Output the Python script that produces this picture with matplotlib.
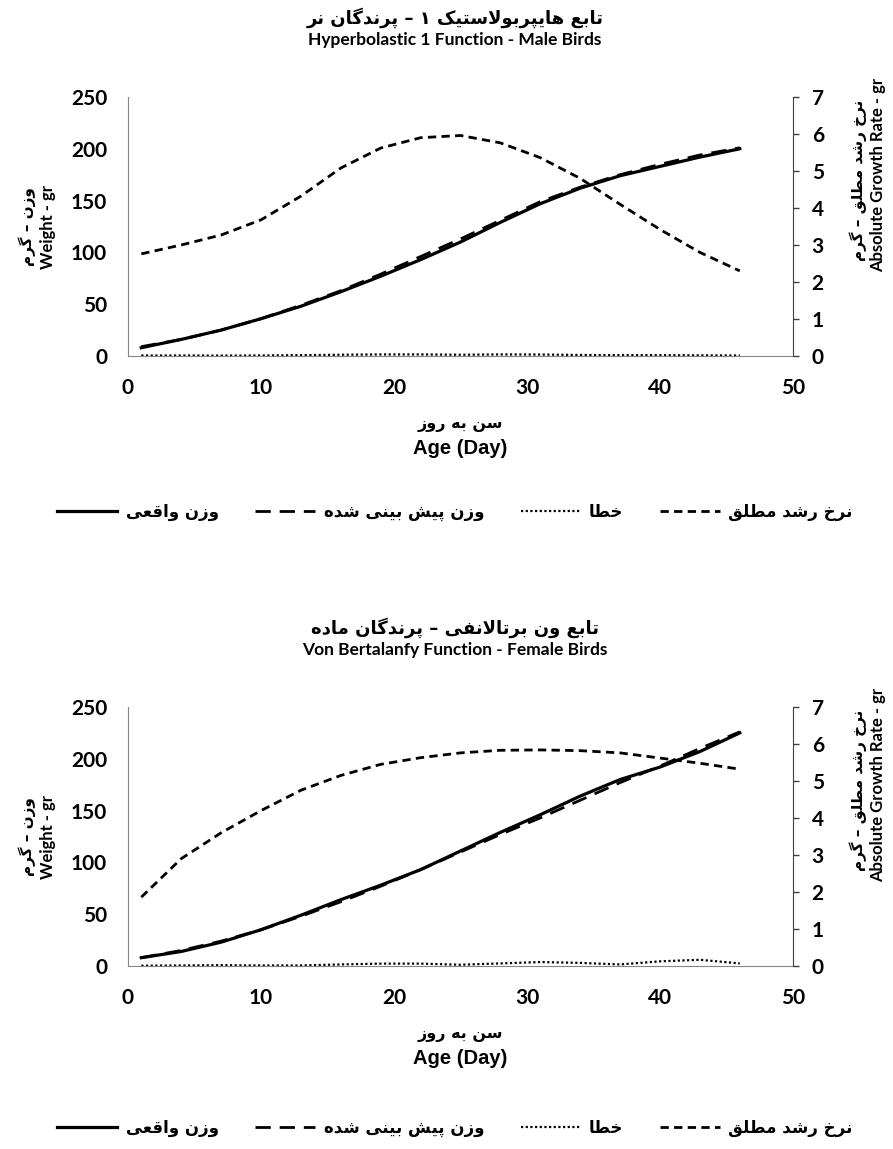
import matplotlib
matplotlib.use("Agg")
import matplotlib.pyplot as plt
from matplotlib.lines import Line2D

W, H = 893, 1149

# روزها (هر سه روز یک نقطه)
days = [1, 4, 7, 10, 13, 16, 19, 22, 25, 28, 31, 34, 37, 40, 43, 46]

# Hyperbolastic 1 - male birds
male_actual = [8, 16, 25, 36, 48, 62, 77, 93, 110, 129, 147, 162, 174, 183, 192, 200]
male_pred = [9, 16, 25, 36, 49, 63, 79, 96, 113, 131, 149, 163, 175, 185, 194, 201]
male_error = [0.5, 0.5, 0.4, 0.5, 0.8, 1.2, 1.5, 1.5, 1.2, 1.5, 1.4, 1.0, 0.8, 0.8, 0.6, 0.5]
male_arg = [2.76, 3.0, 3.27, 3.68, 4.32, 5.08, 5.62, 5.9, 5.96, 5.76, 5.36, 4.8, 4.1, 3.42, 2.8, 2.3]

# Von Bertalanffy - female birds
female_actual = [8, 14, 23, 35, 49, 64, 78, 93, 111, 129, 146, 164, 180, 192, 207, 225]
female_pred = [8, 15, 24, 35, 48, 62, 77, 93, 110, 127, 143, 160, 177, 193, 210, 226]
female_error = [0.3, 0.5, 0.8, 0.5, 0.5, 1.5, 2.3, 2.3, 1.2, 2.5, 3.8, 3.0, 1.5, 4.5, 6.0, 2.5]
female_arg = [1.86, 2.9, 3.6, 4.2, 4.75, 5.15, 5.45, 5.63, 5.76, 5.83, 5.84, 5.82, 5.76, 5.62, 5.48, 5.32]

# شکل‌دهی ساده حروف فارسی (matplotlib حروف را به هم وصل نمی‌کند)
FORMS = {
    '\u0627': ('\ufe8d', '\ufe8e'),                      # ا
    '\u0628': ('\ufe8f', '\ufe90', '\ufe91', '\ufe92'),  # ب
    '\u067e': ('\ufb56', '\ufb57', '\ufb58', '\ufb59'),  # پ
    '\u062a': ('\ufe95', '\ufe96', '\ufe97', '\ufe98'),  # ت
    '\u062e': ('\ufea5', '\ufea6', '\ufea7', '\ufea8'),  # خ
    '\u062f': ('\ufea9', '\ufeaa'),                      # د
    '\u0631': ('\ufead', '\ufeae'),                      # ر
    '\u0632': ('\ufeaf', '\ufeb0'),                      # ز
    '\u0633': ('\ufeb1', '\ufeb2', '\ufeb3', '\ufeb4'),  # س
    '\u0634': ('\ufeb5', '\ufeb6', '\ufeb7', '\ufeb8'),  # ش
    '\u0637': ('\ufec1', '\ufec2', '\ufec3', '\ufec4'),  # ط
    '\u0639': ('\ufec9', '\ufeca', '\ufecb', '\ufecc'),  # ع
    '\u0641': ('\ufed1', '\ufed2', '\ufed3', '\ufed4'),  # ف
    '\u0642': ('\ufed5', '\ufed6', '\ufed7', '\ufed8'),  # ق
    '\u06a9': ('\ufb8e', '\ufb8f', '\ufb90', '\ufb91'),  # ک
    '\u06af': ('\ufb92', '\ufb93', '\ufb94', '\ufb95'),  # گ
    '\u0644': ('\ufedd', '\ufede', '\ufedf', '\ufee0'),  # ل
    '\u0645': ('\ufee1', '\ufee2', '\ufee3', '\ufee4'),  # م
    '\u0646': ('\ufee5', '\ufee6', '\ufee7', '\ufee8'),  # ن
    '\u0647': ('\ufee9', '\ufeea', '\ufeeb', '\ufeec'),  # ه
    '\u0648': ('\ufeed', '\ufeee'),                      # و
    '\u06cc': ('\ufbfc', '\ufbfd', '\ufbfe', '\ufbff'),  # ی
}


def fa(s):
    s = s.replace('\u064a', '\u06cc').replace('\u0649', '\u06cc').replace('\u0643', '\u06a9')
    out = []
    i = 0
    while i < len(s):
        c = s[i]
        if c not in FORMS:
            out.append(c)
            i += 1
            continue
        prev = s[i - 1] if i > 0 else ''
        joins_prev = prev in FORMS and len(FORMS[prev]) == 4
        nxt = s[i + 1] if i + 1 < len(s) else ''
        if c == '\u0644' and nxt == '\u0627':
            out.append('\ufefc' if joins_prev else '\ufefb')
            i += 2
            continue
        f = FORMS[c]
        joins_next = len(f) == 4 and nxt in FORMS
        if joins_prev and joins_next:
            out.append(f[3])
        elif joins_prev:
            out.append(f[1])
        elif joins_next:
            out.append(f[2])
        else:
            out.append(f[0])
        i += 1
    return ''.join(reversed(out))


LAT = ['Lato', 'DejaVu Sans']
FAF = ['DejaVu Sans']

fig = plt.figure(figsize=(W / 100, H / 100), dpi=100)


def ftext(x, y, s, **kw):
    kw.setdefault('ha', 'center')
    kw.setdefault('va', 'center')
    fig.text(x / W, 1 - y / H, s, **kw)


def draw_chart(top, title_fa, title_en, actual, pred, error, arg, leg_y):
    x0, x1 = 128, 793
    bottom = top + 259
    ax = fig.add_axes([x0 / W, 1 - bottom / H, (x1 - x0) / W, (bottom - top) / H])
    ax2 = ax.twinx()

    ax.plot(days, actual, color='black', lw=2.3)
    ax.plot(days, pred, color='black', lw=2.0, dashes=(5.5, 3.2))
    ax.plot(days, error, color='black', lw=1.6, dashes=(1, 1.1))
    ax2.plot(days, arg, color='black', lw=2.0, dashes=(3.0, 1.9))

    ax.set_xlim(0, 50)
    ax.set_ylim(0, 250)
    ax2.set_ylim(0, 7)
    ax.set_xticks(range(0, 51, 10))
    ax.set_yticks(range(0, 251, 50))
    ax2.set_yticks(range(0, 8))

    ax.tick_params(axis='y', length=0, pad=15, labelsize=15)
    ax.tick_params(axis='x', length=0, pad=16, labelsize=15)
    ax2.tick_params(axis='y', length=4.5, width=1, color='#404040', pad=9, labelsize=15)
    for lbl in ax.get_xticklabels() + ax.get_yticklabels() + ax2.get_yticklabels():
        lbl.set_family(LAT)
        lbl.set_fontweight('bold')

    for a in (ax, ax2):
        a.spines['top'].set_visible(False)
        a.patch.set_visible(False)
    ax.spines['right'].set_visible(False)
    ax2.spines['left'].set_visible(False)
    ax2.spines['bottom'].set_visible(False)
    ax.spines['left'].set_color('#868686')
    ax.spines['bottom'].set_color('#868686')
    ax2.spines['right'].set_color('#404040')

    # عنوان‌ها
    ftext(455, top - 79, fa(title_fa), family=FAF, fontsize=13, fontweight='bold')
    ftext(455, top - 57, title_en, family=LAT, fontsize=12.5, fontweight='bold')

    # برچسب محور عمودی چپ
    ftext(27, top + 130, fa('وزن – گرم'), family=FAF, fontsize=11, fontweight='bold', rotation=90)
    ftext(48, top + 130, 'Weight - gr', family=LAT, fontsize=12, fontweight='bold', rotation=90)

    # برچسب محور عمودی راست
    ftext(858, top + 83, fa('نرخ رشد مطلق – گرم'), family=FAF, fontsize=11, fontweight='bold',
          rotation=90)
    ftext(878, top + 78, 'Absolute Growth Rate - gr', family=LAT, fontsize=12,
          fontweight='bold', rotation=90)

    # برچسب محور افقی
    ftext(460, top + 328, fa('سن به روز'), family=FAF, fontsize=11.5, fontweight='bold')
    ftext(460, top + 351, 'Age (Day)', family=['Liberation Sans', 'DejaVu Sans'],
          fontsize=14.5, fontweight='bold')

    # راهنما
    handles = [
        Line2D([], [], color='black', lw=2.3),
        Line2D([], [], color='black', lw=2.0, dashes=(5.5, 3.2)),
        Line2D([], [], color='black', lw=1.6, dashes=(1, 1.1)),
        Line2D([], [], color='black', lw=2.0, dashes=(3.0, 1.9)),
    ]
    labels = [fa('وزن واقعی'), fa('وزن پیش بینی شده'), fa('خطا'), fa('نرخ رشد مطلق')]
    fig.legend(handles, labels, loc='center', bbox_to_anchor=(455 / W, 1 - leg_y / H),
               ncol=4, frameon=False, prop={'family': FAF, 'size': 12, 'weight': 'bold'},
               handlelength=3.6, handletextpad=0.5, columnspacing=2.2)
    return ax, ax2


draw_chart(97, 'تابع هایپربولاستیک ۱ – پرندگان نر', 'Hyperbolastic 1 Function - Male Birds',
           male_actual, male_pred, male_error, male_arg, 512)
draw_chart(707, 'تابع ون برتالانفی – پرندگان ماده', 'Von Bertalanfy Function - Female Birds',
           female_actual, female_pred, female_error, female_arg, 1128)

fig.savefig('out.png', dpi=100)
